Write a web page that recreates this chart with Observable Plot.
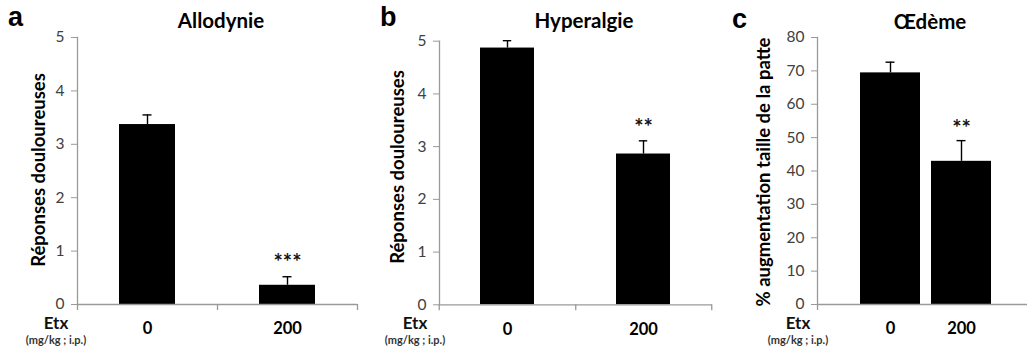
<!DOCTYPE html>
<html>
<head>
<meta charset="utf-8">
<script src="https://cdn.jsdelivr.net/npm/d3@7"></script>
<script src="https://cdn.jsdelivr.net/npm/@observablehq/plot@0.6"></script>
<style>
  body { margin: 0; background: white; }
  #wrap { position: relative; width: 1027px; height: 349px; overflow: hidden; font-family: Lato, "Open Sans", sans-serif; }
  .pane { position: absolute; top: 0; }
  .pane svg { background: transparent !important; max-width: none !important; overflow: visible; }
  .txt { position: absolute; white-space: nowrap; line-height: 1; }
  .letter { font-family: "Liberation Sans", Arial, sans-serif; font-weight: bold; font-size: 27px; color: #000; }
  .title { font-weight: bold; font-size: 20.5px; color: #000; transform: translate(-50%, -50%); }
  .ylab { font-weight: bold; font-size: 18.5px; color: #000; transform: translate(-50%, -50%) rotate(-90deg); }
  .etx { font-weight: bold; font-size: 17px; color: #111; transform: translate(-50%, -50%); }
  .unit { font-weight: bold; font-size: 11px; color: #333; transform: translate(-50%, -50%); }
</style>
</head>
<body>
<div id="wrap"></div>
<script>
// ---- data ----
const doses = ["0", "200"];
const allodynieMean = [3.37, 0.36];
const allodynieSem = [0.18, 0.16];
const allodynieSig = ["", "***"];
const hyperalgieMean = [4.87, 2.86];
const hyperalgieSem = [0.14, 0.25];
const hyperalgieSig = ["", "**"];
const oedemeMean = [69.4, 42.9];
const oedemeSem = [3.2, 6.2];
const oedemeSig = ["", "**"];
const ticksA = [0, 1, 2, 3, 4, 5];
const ticksB = [0, 1, 2, 3, 4, 5];
const ticksC = [0, 10, 20, 30, 40, 50, 60, 70, 80];

const wrap = document.getElementById("wrap");
const AXIS = "#9a9a9a";
const FONT = "Lato, 'Open Sans', sans-serif";

function rows(mean, sem, sig) {
  return doses.map((d, i) => ({dose: d, mean: mean[i], upper: mean[i] + sem[i], sig: sig[i]}));
}

function panel(cfg) {
  const data = rows(cfg.mean, cfg.sem, cfg.sig);
  const xr = cfg.xRange;
  const step = (xr[1] - xr[0]) / (doses.length - cfg.padIn + 2 * cfg.padOut);
  const bw = step * (1 - cfg.padIn);
  const marks = [
    Plot.barY(data, {x: "dose", y: "mean", fill: "black"}),
    Plot.ruleX(data, {x: "dose", y1: "mean", y2: "upper", stroke: "black", strokeWidth: 1.4}),
    Plot.tickY(data, {x: "dose", y: "upper", stroke: "black", strokeWidth: 1.4, insetLeft: (bw - 9) / 2, insetRight: (bw - 9) / 2}),
    Plot.text(data, {x: "dose", y: "upper", text: "sig", dy: cfg.starDy, fontSize: 22, fontWeight: "bold", fill: "#111"}),
    Plot.ruleY([cfg.ticks[0]], {stroke: AXIS, strokeWidth: 1.3}),
    Plot.frame({anchor: "left", stroke: AXIS, strokeWidth: 1.3}),
    Plot.axisY({ticks: cfg.ticks, tickSize: 6, tickPadding: 7, stroke: AXIS, fill: "#404040", fontSize: 15.5, label: null, tickFormat: d => String(d)}),
    Plot.axisX({tickSize: 0, tickPadding: 18, fill: "#000", fontSize: 16.5, fontWeight: "bold", label: null}),
    Plot.axisX(doses.slice(0, 1), {tickSize: 6, dx: -(step * (1 - cfg.padIn)) / 2 - step * cfg.padOut, stroke: AXIS, strokeWidth: 1.3, tickFormat: () => "", label: null})
  ];
  if (cfg.midTicks) {
    marks.push(Plot.axisX(doses, {tickSize: 6, dx: step / 2, stroke: AXIS, strokeWidth: 1.3, tickFormat: () => "", label: null}));
  }
  const chart = Plot.plot({
    width: cfg.width,
    height: 349,
    marginLeft: cfg.ml,
    marginRight: cfg.mr,
    marginTop: cfg.mt,
    marginBottom: cfg.mb,
    style: {fontFamily: FONT, background: "transparent", overflow: "visible"},
    x: {domain: doses, range: xr, paddingInner: cfg.padIn, paddingOuter: cfg.padOut, axis: null},
    y: {domain: cfg.domain, axis: null},
    marks
  });
  const div = document.createElement("div");
  div.className = "pane";
  div.style.left = cfg.left + "px";
  div.style.width = cfg.width + "px";
  div.appendChild(chart);
  wrap.appendChild(div);
}

panel({left: 0, width: 360, ml: 77, mr: 3, mt: 37, mb: 45, xRange: [77, 357], padIn: 0.6, padOut: 0.3,
  mean: allodynieMean, sem: allodynieSem, sig: allodynieSig, domain: [0, 5], ticks: ticksA, starDy: -14, midTicks: true});
panel({left: 360, width: 355, ml: 79, mr: 3, mt: 40.7, mb: 44.7, xRange: [79, 352], padIn: 0.6, padOut: 0.3,
  mean: hyperalgieMean, sem: hyperalgieSem, sig: hyperalgieSig, domain: [0, 5], ticks: ticksB, starDy: -13, midTicks: true});
panel({left: 715, width: 312, ml: 102, mr: 0, mt: 37, mb: 45, xRange: [102, 319], padIn: 0.155, padOut: 0.605,
  mean: oedemeMean, sem: oedemeSem, sig: oedemeSig, domain: [0, 80], ticks: ticksC, starDy: -12, midTicks: false});

function addText(cls, text, x, y) {
  const el = document.createElement("div");
  el.className = "txt " + cls;
  el.textContent = text;
  el.style.left = x + "px";
  el.style.top = y + "px";
  wrap.appendChild(el);
}
addText("letter", "a", 8, 4);
addText("letter", "b", 380, 4);
addText("letter", "c", 732, 6);
addText("title", "Allodynie", 221, 20);
addText("title", "Hyperalgie", 584, 20);
addText("title", "Œdème", 930, 21);
addText("ylab", "Réponses douloureuses", 38, 170);
addText("ylab", "Réponses douloureuses", 397, 167);
addText("ylab", "% augmentation taille de la patte", 763, 172);
addText("etx", "Etx", 56, 322);
addText("unit", "(mg/kg ; i.p.)", 56, 339);
addText("etx", "Etx", 415, 322);
addText("unit", "(mg/kg ; i.p.)", 415, 339);
addText("etx", "Etx", 798, 322);
addText("unit", "(mg/kg ; i.p.)", 798, 339);
</script>
</body>
</html>
